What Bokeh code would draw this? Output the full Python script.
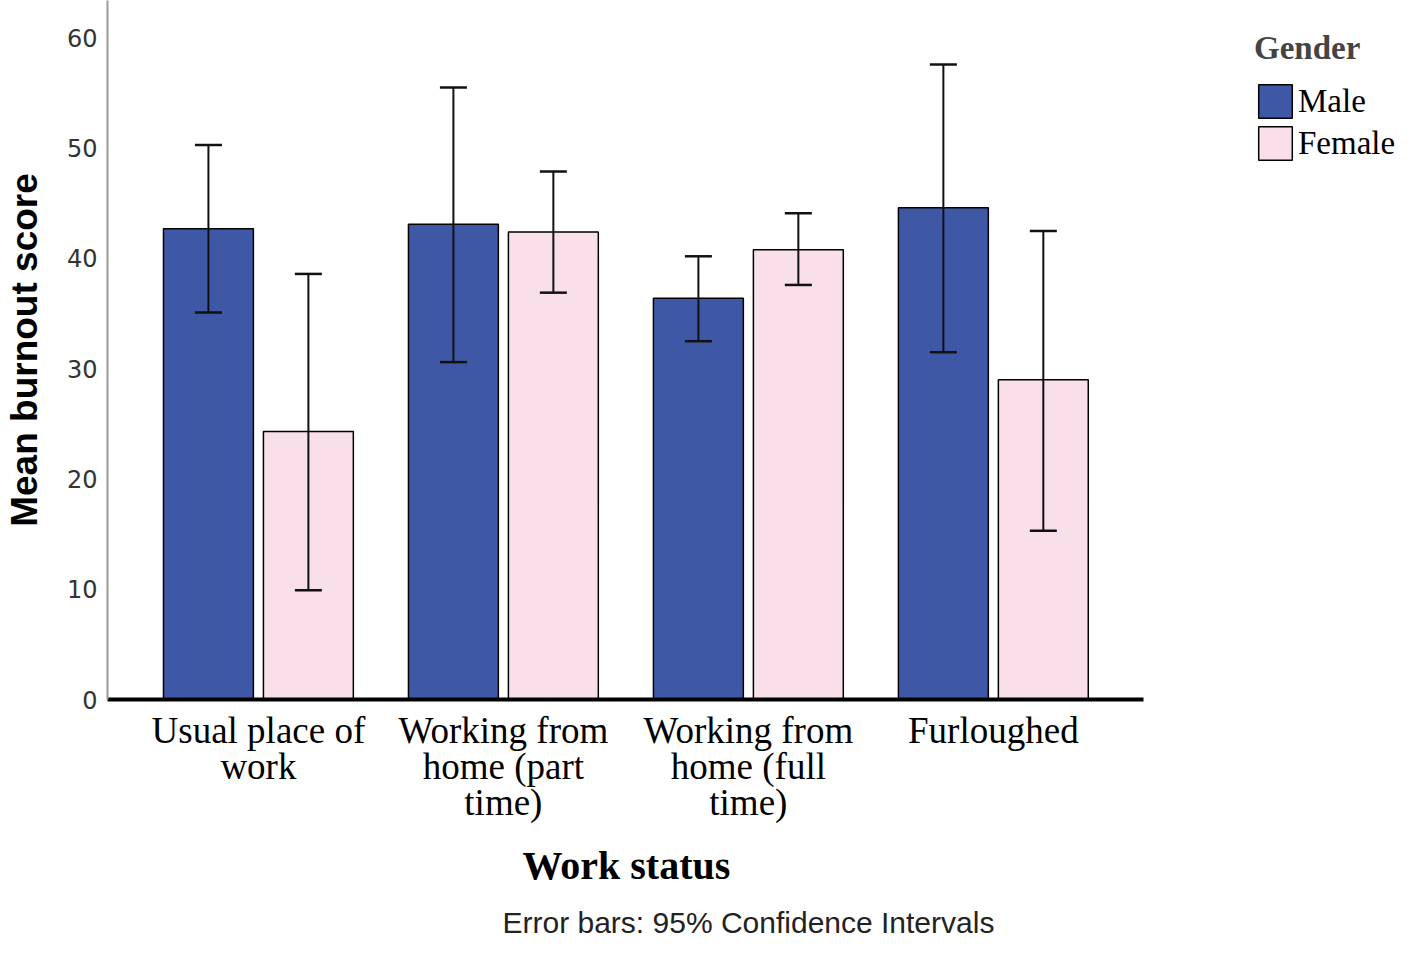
import numpy as np
from bokeh.plotting import figure
from bokeh.models import (ColumnDataSource, Range1d, FixedTicker, Whisker, TeeHead,
                          Legend, LegendItem, Title)
from bokeh.transform import dodge
from bokeh.embed import file_html
from bokeh.resources import INLINE

# ---- data ----
categories = ["Usual place of work", "Working from home (part time)",
              "Working from home (full time)", "Furloughed"]
tick_labels = ["Usual place of\nwork", "Working from\nhome (part\ntime)",
               "Working from\nhome (full\ntime)", "Furloughed"]
genders = ["Male", "Female"]
male_mean = [42.7, 43.1, 36.4, 44.6]
male_lower = [35.1, 30.6, 32.5, 31.5]
male_upper = [50.3, 55.5, 40.2, 57.6]
female_mean = [24.3, 42.4, 40.8, 29.0]
female_lower = [9.9, 36.9, 37.6, 15.3]
female_upper = [38.6, 47.9, 44.1, 42.5]
y_ticks = [0, 10, 20, 30, 40, 50, 60]

MALE_COLOR = "#3e58a6"
FEMALE_COLOR = "#f8dfe9"

X_START, X_AXIS_END, X_END = -0.616, 3.612, 4.662

xs = list(range(len(categories)))
src_m = ColumnDataSource(dict(x=xs, top=male_mean, lower=male_lower, upper=male_upper))
src_f = ColumnDataSource(dict(x=xs, top=female_mean, lower=female_lower, upper=female_upper))

p = figure(width=1400, height=940, output_backend="svg", toolbar_location=None,
           x_range=Range1d(X_START, X_END), y_range=Range1d(0, 63.4),
           min_border_left=107, min_border_right=0, min_border_top=0,
           min_border_bottom=241)
p.outline_line_color = None
p.grid.visible = False
p.background_fill_color = "white"

OFF = 0.204
W = 0.367
rm = p.vbar(x=dodge("x", -OFF), top="top", bottom=0, width=W, source=src_m,
            fill_color=MALE_COLOR, line_color="black", line_width=1.5)
rf = p.vbar(x=dodge("x", OFF), top="top", bottom=0, width=W, source=src_f,
            fill_color=FEMALE_COLOR, line_color="black", line_width=1.5)

for src, off in ((src_m, -OFF), (src_f, OFF)):
    wk = Whisker(base=dodge("x", off), upper="upper", lower="lower", source=src,
                 dimension="height", line_color="#111111", line_width=2,
                 upper_head=TeeHead(size=27, line_width=2.5, line_color="#111111"),
                 lower_head=TeeHead(size=27, line_width=2.5, line_color="#111111"),
                 level="overlay")
    p.add_layout(wk)

# x axis
xa = p.xaxis[0]
xa.bounds = (X_START, X_AXIS_END)
xa.ticker = FixedTicker(ticks=xs)
xa.major_label_overrides = {i: t for i, t in enumerate(tick_labels)}
xa.axis_line_width = 4
xa.axis_line_color = "black"
xa.major_tick_line_color = None
xa.minor_tick_line_color = None
xa.major_label_text_font = "Liberation Serif"
xa.major_label_text_font_size = "37px"
xa.major_label_text_color = "black"
xa.major_label_text_line_height = 0.88
xa.major_label_standoff = 4

# x axis title, centred under the axis line
x_title = Title(text="Work status", align="left", offset=415,
                text_font="Liberation Serif", text_font_style="bold",
                text_font_size="40px", text_color="black", standoff=30)
p.add_layout(x_title, "below")

# y axis
ya = p.yaxis[0]
ya.ticker = FixedTicker(ticks=y_ticks)
ya.axis_line_color = "#9a9a9a"
ya.axis_line_width = 2
ya.major_tick_line_color = None
ya.minor_tick_line_color = None
ya.major_label_text_font = "DejaVu Sans"
ya.major_label_text_font_size = "24px"
ya.major_label_text_color = "#333333"
ya.major_label_standoff = 4
ya.axis_label = "Mean burnout score"
ya.axis_label_text_font = "Liberation Sans"
ya.axis_label_text_font_style = "bold"
ya.axis_label_text_font_size = "37px"
ya.axis_label_text_color = "black"
ya.axis_label_standoff = 19

legend = Legend(items=[LegendItem(label=genders[0], renderers=[rm]),
                       LegendItem(label=genders[1], renderers=[rf])],
                location=(1147, 535), title="Gender",
                title_text_font="Liberation Serif", title_text_font_style="bold",
                title_text_font_size="33px", title_standoff=13,
                label_text_font="Liberation Serif", label_text_font_size="33px",
                label_text_color="black",
                glyph_width=42, glyph_height=42, spacing=0, padding=0, margin=0,
                label_standoff=2, border_line_color=None, background_fill_alpha=0)
p.add_layout(legend)

note = Title(text="Error bars: 95% Confidence Intervals", align="left", offset=395,
             text_font="Liberation Sans", text_font_size="30px",
             text_font_style="normal", text_color="#222222", standoff=2)
p.add_layout(note, "below")

open("out.html", "w").write(file_html(p, INLINE))
